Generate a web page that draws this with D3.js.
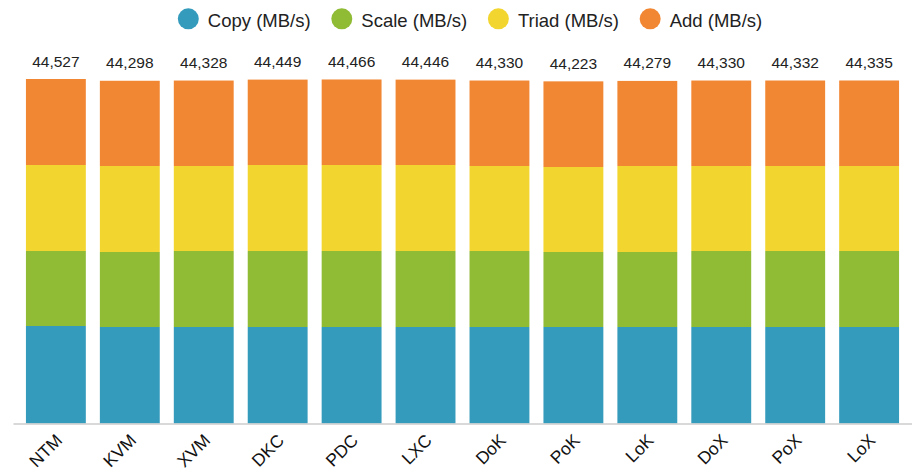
<!DOCTYPE html>
<html>
<head>
<meta charset="utf-8">
<script src="https://cdn.jsdelivr.net/npm/d3@7"></script>
<style>
  html, body { margin: 0; padding: 0; background: #fff; }
  svg { display: block; font-family: "Liberation Sans", Arial, sans-serif; }
</style>
</head>
<body>
<svg id="chart" width="912" height="471"></svg>
<script>
const categories = ["NTM", "KVM", "XVM", "DKC", "PDC", "LXC", "DoK", "PoK", "LoK", "DoX", "PoX", "LoX"];
const seriesNames = ["Copy (MB/s)", "Scale (MB/s)", "Triad (MB/s)", "Add (MB/s)"];
const copyVals  = [12602, 12473, 12473, 12473, 12473, 12473, 12473, 12473, 12473, 12473, 12473, 12473];
const scaleVals = [9694, 9694, 9823, 9823, 9823, 9823, 9823, 9694, 9694, 9823, 9823, 9823];
const triadVals = [11116, 11116, 10986, 11116, 11116, 11116, 10986, 10986, 11116, 10986, 10986, 10986];
const addVals   = [11115, 11015, 11046, 11037, 11054, 11034, 11048, 11070, 10996, 11048, 11050, 11053];
const totalLabels = ["44,527", "44,298", "44,328", "44,449", "44,466", "44,446", "44,330", "44,223", "44,279", "44,330", "44,332", "44,335"];
const colors = ["#349bbd", "#8fbb35", "#f2d52e", "#f28733"];

const svg = d3.select("#chart");
const baseY = 423.5;

const rows = categories.map((c, i) => ({
  cat: c,
  "Copy (MB/s)": copyVals[i],
  "Scale (MB/s)": scaleVals[i],
  "Triad (MB/s)": triadVals[i],
  "Add (MB/s)": addVals[i]
}));
const totals = rows.map(r => seriesNames.reduce((s, k) => s + r[k], 0));

const x = d3.scaleBand().domain(categories).range([13, 912]).paddingInner(0.19).paddingOuter(0.175);
const y = d3.scaleLinear().domain([0, d3.max(totals)]).range([baseY, 79]);
const color = d3.scaleOrdinal().domain(seriesNames).range(colors);

const stack = d3.stack().keys(seriesNames)(rows);

svg.append("g").selectAll("g").data(stack).join("g")
  .attr("fill", d => color(d.key))
  .selectAll("rect").data(d => d).join("rect")
  .attr("x", d => x(d.data.cat))
  .attr("width", x.bandwidth())
  .attr("y", d => y(d[1]))
  .attr("height", d => y(d[0]) - y(d[1]));

// axis
const xAxis = svg.append("g").attr("transform", `translate(0,${baseY})`)
  .call(d3.axisBottom(x).tickSize(0).tickPadding(0));
xAxis.select(".domain").attr("stroke", "#cccccc").attr("stroke-width", 1.5);
xAxis.selectAll(".tick text")
  .attr("font-size", 17.5)
  .attr("fill", "#111")
  .attr("font-family", "Liberation Sans, Arial, sans-serif")
  .attr("text-anchor", "end")
  .attr("dy", null)
  .attr("y", 0)
  .attr("transform", "translate(7.5,18) rotate(-45)");

// totals
svg.append("g").selectAll("text").data(rows).join("text")
  .attr("x", d => x(d.cat) + x.bandwidth() / 2)
  .attr("y", (d, i) => y(totals[i]) - 12.5)
  .attr("text-anchor", "middle")
  .attr("font-size", 15.5)
  .attr("fill", "#222")
  .text((d, i) => totalLabels[i]);

// legend
const lg = svg.append("g");
const items = lg.selectAll("g").data(seriesNames).join("g");
items.append("circle").attr("r", 10.5).attr("cy", 18.8).attr("fill", d => color(d));
items.append("text").attr("x", 19.5).attr("y", 26.5)
  .attr("font-size", 18.5).attr("fill", "#222").text(d => d);
let cx = 0;
const positions = [];
items.each(function () {
  const t = d3.select(this).select("text").node().getComputedTextLength();
  positions.push(cx);
  cx += 19.5 + t + 31.2;
});
const totalW = cx - 31.2 + 10.5;
const startX = 470 - totalW / 2 + 10.5;
items.attr("transform", (d, i) => `translate(${startX + positions[i]},0)`);
</script>
</body>
</html>
